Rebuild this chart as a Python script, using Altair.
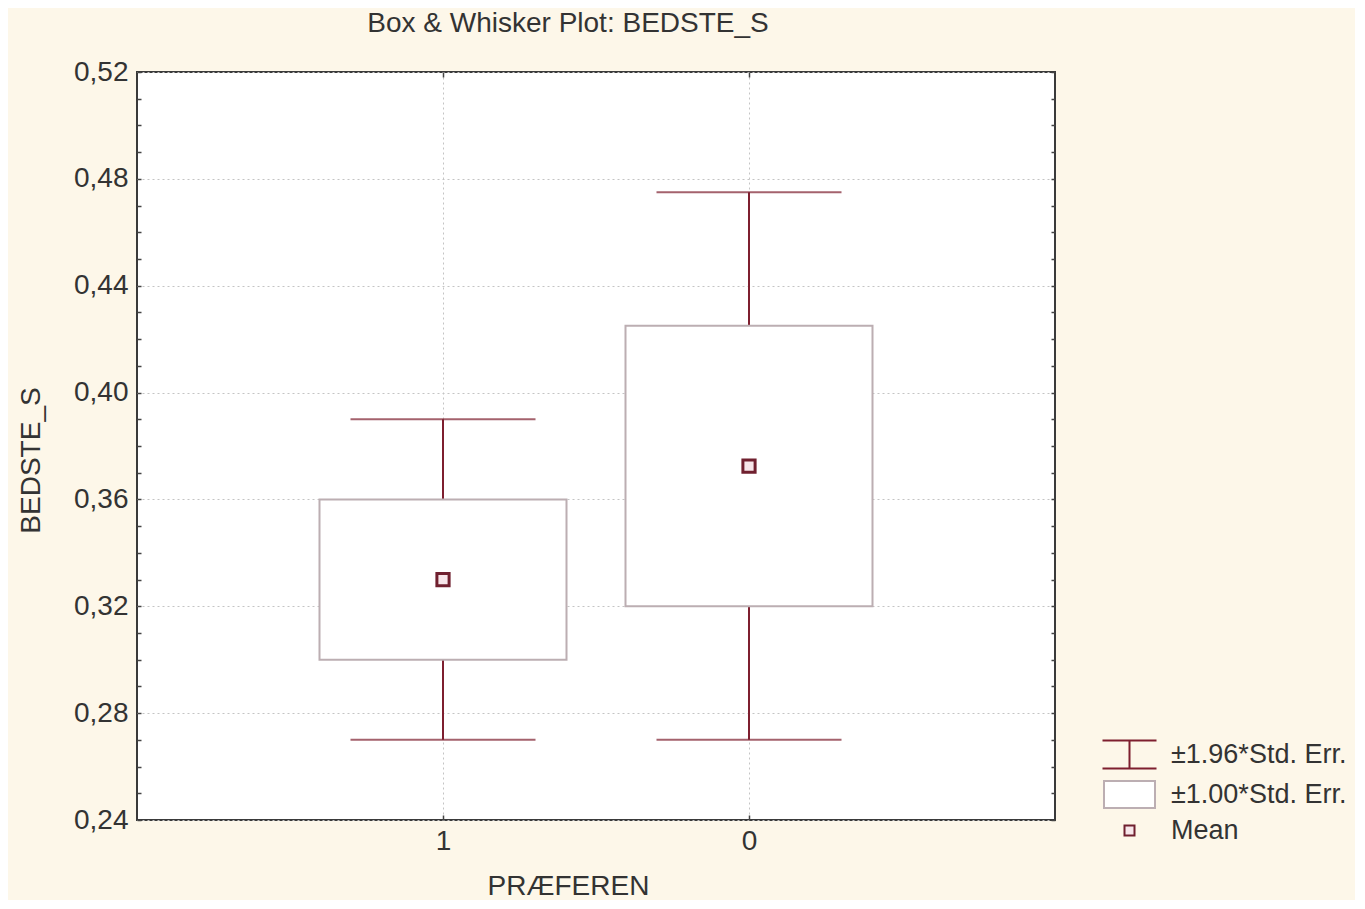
import altair as alt
import pandas as pd

# ---- data ----
groups = ["1", "0"]
means = [0.33, 0.3725]
se_low = [0.30, 0.32]
se_high = [0.36, 0.425]
ci_low = [0.27, 0.27]
ci_high = [0.39, 0.475]

legend_items = ["±1.96*Std. Err.", "±1.00*Std. Err.", "Mean"]
y_major = [0.24, 0.28, 0.32, 0.36, 0.40, 0.44, 0.48, 0.52]
y_minor = [round(0.24 + 0.01 * i, 2) for i in range(29)]

df = pd.DataFrame({
    "PRÆFEREN": groups,
    "mean": means,
    "se_low": se_low,
    "se_high": se_high,
    "ci_low": ci_low,
    "ci_high": ci_high,
    "item": ["Mean", "Mean"],
})

WHISK = "#7e1f2f"
BOXC = "#bcaeb2"
MEANC = "#70202f"
FONT = "Liberation Sans"
TXT = "#333333"
FS = 28

xscale = alt.Scale(type="point", domain=groups, padding=1)
yscale = alt.Scale(domain=[0.24, 0.52], nice=False, zero=False)

shape_paths = [
    "M-5.4,-2.8H5.4M0,-2.8V2.8M-5.4,2.8H5.4",
    "M-5.1,-2.7H5.1V2.7H-5.1Z",
    "M-1,-1H1V1H-1Z",
]

base = alt.Chart(df)

main_y_axis = alt.Axis(
    values=y_major,
    labelExpr="replace(format(datum.value, '.2f'), '.', ',')",
    grid=True, gridColor="#c4c4c4", gridDash=[2, 3], gridWidth=1,
    ticks=False, domain=False, labelPadding=9,
    labelFont=FONT, labelFontSize=FS, labelColor=TXT,
    title="BEDSTE_S", titleFont=FONT, titleFontSize=FS, titleFontWeight="normal",
    titleColor=TXT, titleX=-98, titleY=388, titleBaseline="alphabetic",
    titleAngle=270, titleAlign="center",
)
main_x_axis = alt.Axis(
    grid=True, gridColor="#c4c4c4", gridDash=[2, 3], gridWidth=1,
    ticks=False, domain=False, labelPadding=7, labelAngle=0,
    labelFont=FONT, labelFontSize=FS, labelColor=TXT,
    title="PRÆFEREN", titleFont=FONT, titleFontSize=FS, titleFontWeight="normal",
    titleColor=TXT, titleX=431, titleY=74, titleBaseline="alphabetic",
    titleAlign="center",
)

def minor_y(orient):
    return alt.Axis(orient=orient, values=y_minor, labels=False, grid=False,
                    domain=False, ticks=True, tickSize=4, offset=-4,
                    tickColor="#444444", tickWidth=1.5, title=None)

def minor_x(orient):
    return alt.Axis(orient=orient, labels=False, grid=False, domain=False,
                    ticks=True, tickSize=5, offset=-5, tickColor="#444444",
                    tickWidth=1.5, title=None)

whisker = base.mark_rule(color=WHISK, strokeWidth=2).encode(
    x=alt.X("PRÆFEREN:N", scale=xscale, sort=groups, axis=main_x_axis),
    y=alt.Y("ci_low:Q", scale=yscale, axis=main_y_axis),
    y2="ci_high:Q",
)

box = base.mark_bar(size=247, fill="white", stroke=BOXC, strokeWidth=2).encode(
    x=alt.X("PRÆFEREN:N", scale=xscale, sort=groups, axis=minor_x("top")),
    y=alt.Y("se_low:Q", scale=yscale, axis=minor_y("left")),
    y2="se_high:Q",
)

cap_hi = base.mark_tick(size=185, thickness=2, color=WHISK).encode(
    x=alt.X("PRÆFEREN:N", scale=xscale, sort=groups, axis=minor_x("bottom")),
    y=alt.Y("ci_high:Q", scale=yscale, axis=minor_y("right")),
)
cap_lo = base.mark_tick(size=185, thickness=2, color=WHISK).encode(
    x=alt.X("PRÆFEREN:N", scale=xscale, sort=groups, axis=None),
    y=alt.Y("ci_low:Q", scale=yscale, axis=None),
)

legend = alt.Legend(
    orient="none", legendX=979, legendY=669, title=None,
    labelFont=FONT, labelFontSize=27, labelColor=TXT, labelOffset=28,
    labelLimit=500,
    symbolSize=100, symbolStrokeWidth=2, symbolOpacity=1, rowPadding=4,
)

mean_pts = base.mark_point(filled=True, size=149, strokeWidth=3, opacity=1).encode(
    x=alt.X("PRÆFEREN:N", scale=xscale, sort=groups, axis=None),
    y=alt.Y("mean:Q", scale=yscale, axis=None),
    shape=alt.Shape("item:N", scale=alt.Scale(domain=legend_items, range=shape_paths), legend=legend),
    stroke=alt.Stroke("item:N", scale=alt.Scale(domain=legend_items, range=[WHISK, BOXC, MEANC]), legend=legend),
    fill=alt.Fill("item:N", scale=alt.Scale(domain=legend_items, range=["transparent", "white", "#f7e6ea"]), legend=legend),
)

chart = alt.layer(whisker, box, cap_hi, cap_lo, mean_pts).resolve_axis(
    x="independent", y="independent"
).properties(
    width=918, height=748,
    autosize=alt.AutoSizeParams(type="none"),
    padding={"left": 129, "top": 64, "right": 300, "bottom": 80},
    background="#fdf7e9",
    title=alt.TitleParams(
        "Box & Whisker Plot: BEDSTE_S", font=FONT, fontSize=FS, fontWeight="normal",
        color=TXT, dx=-28, offset=20, anchor="middle",
    ),
).configure_view(
    fill="white", stroke="#3a3a3a", strokeWidth=2,
)

chart.save("out.html", embed_options={"renderer": "svg", "actions": False})
